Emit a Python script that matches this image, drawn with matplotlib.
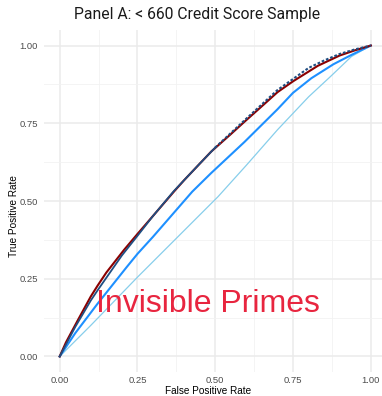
import matplotlib
matplotlib.use("Agg")
import matplotlib.pyplot as plt
from matplotlib.ticker import MultipleLocator

# ROC curves (False Positive Rate, True Positive Rate)
red_fpr = [0, 0.02, 0.0585, 0.1, 0.122, 0.15, 0.207, 0.25, 0.3, 0.367, 0.4, 0.487, 0.55, 0.594, 0.65, 0.70, 0.75, 0.83, 0.9, 0.95, 1]
red_tpr = [0, 0.045, 0.117, 0.193, 0.228, 0.27, 0.343, 0.394, 0.452, 0.53, 0.567, 0.659, 0.715, 0.755, 0.805, 0.85, 0.885, 0.935, 0.968, 0.985, 1]

navy_fpr = [0, 0.05, 0.1, 0.122, 0.2, 0.25, 0.3, 0.367, 0.45, 0.5, 0.6, 0.7, 0.8, 0.85, 0.9, 0.95, 1]
navy_tpr = [0, 0.095, 0.18, 0.213, 0.325, 0.388, 0.452, 0.532, 0.62, 0.672, 0.765, 0.857, 0.928, 0.952, 0.973, 0.988, 1]

blue_fpr = [0, 0.05, 0.122, 0.215, 0.25, 0.3, 0.426, 0.487, 0.594, 0.70, 0.75, 0.809, 0.88, 0.938, 1]
blue_tpr = [0, 0.075, 0.17, 0.287, 0.33, 0.385, 0.53, 0.59, 0.69, 0.795, 0.848, 0.895, 0.94, 0.97, 1]

sky_fpr = [0, 0.1, 0.25, 0.4, 0.509, 0.6, 0.70, 0.8, 0.87, 0.938, 1]
sky_tpr = [0, 0.1, 0.255, 0.405, 0.514, 0.615, 0.729, 0.835, 0.90, 0.965, 1]

ticks = [0.0, 0.25, 0.5, 0.75, 1.0]
tick_labels = ["0.00", "0.25", "0.50", "0.75", "1.00"]

plt.rcParams['font.family'] = ['Liberation Sans', 'DejaVu Sans']

fig = plt.figure(figsize=(3.82, 3.96), dpi=100)
ax = fig.add_axes([0.1139, 0.0606, 0.8861, 0.8636])

ax.plot(sky_fpr, sky_tpr, color="#87CEEB", lw=0.9, zorder=3)
ax.plot(blue_fpr, blue_tpr, color="#1E90FF", lw=1.5, zorder=4)
ax.plot(red_fpr, red_tpr, color="#8B0000", lw=1.5, zorder=5)
split = 10
ax.plot(navy_fpr[:split], navy_tpr[:split], color="#1F4E82", lw=1.3, zorder=6)
ax.plot(navy_fpr[split - 1:], navy_tpr[split - 1:], color="#1F4E82", lw=1.5,
        ls=(0, (1.3, 0.9)), zorder=6)

ax.set_xlim(-0.052, 1.036)
ax.set_ylim(-0.05, 1.05)
ax.set_xticks(ticks)
ax.set_xticklabels(tick_labels)
ax.set_yticks(ticks)
ax.set_yticklabels(tick_labels)
ax.xaxis.set_minor_locator(MultipleLocator(0.125))
ax.yaxis.set_minor_locator(MultipleLocator(0.125))

ax.grid(which="major", color="#EBEBEB", lw=1.1, zorder=0)
ax.grid(which="minor", color="#F2F2F2", lw=0.6, zorder=0)
ax.set_axisbelow(True)
for s in ax.spines.values():
    s.set_visible(False)
ax.tick_params(which="both", length=0, labelsize=6.8, labelcolor="#4D4D4D")
ax.tick_params(axis="x", pad=3)
ax.tick_params(axis="y", pad=4)

ax.set_xlabel("False Positive Rate", fontsize=7.2, color="black", va="center", ha="center")
ax.set_ylabel("True Positive Rate", fontsize=7.2, color="black", va="center", ha="center")
ax.xaxis.set_label_coords(0.487, -0.0556)
ax.yaxis.set_label_coords(-0.087, 0.457)
fig.text(197 / 382, 1 - 14 / 396, "Panel A: < 660 Credit Score Sample", fontsize=11.3,
         color="#1A1A1A", ha="center", va="center", family=["Roboto", "DejaVu Sans"])

ax.text(0.477, 0.17, "Invisible Primes", color="#E8253F", fontsize=23,
        ha="center", va="center", zorder=7)

fig.savefig("out.png", dpi=100)
